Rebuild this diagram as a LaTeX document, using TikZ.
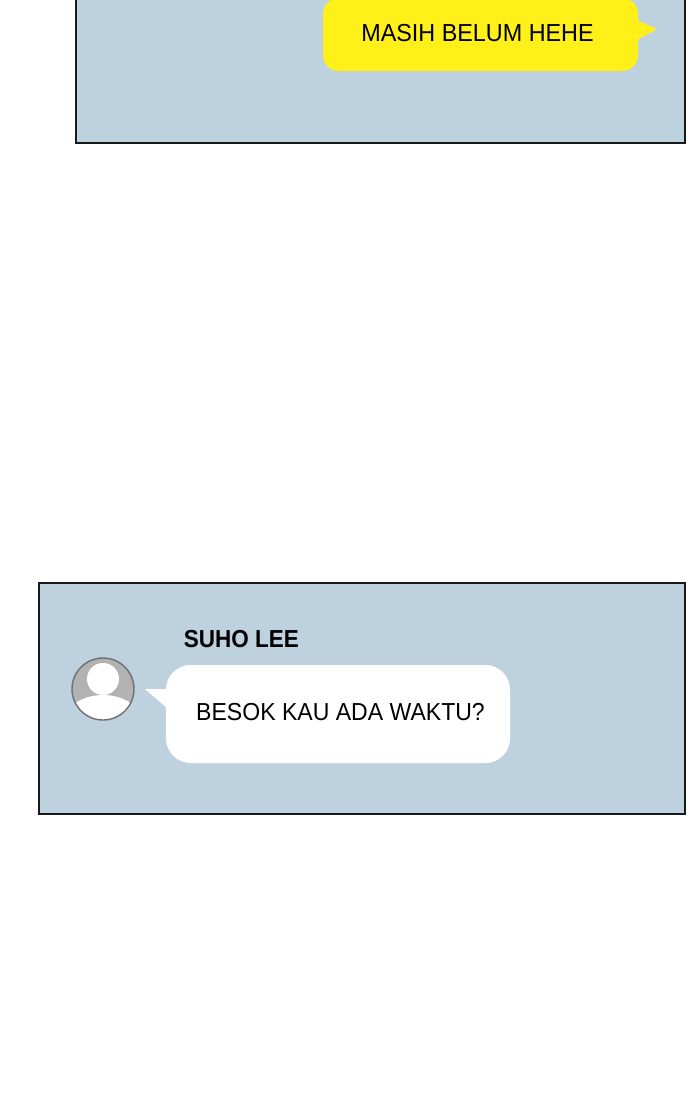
\documentclass[tikz,border=0pt]{standalone}
\usepackage{fontspec}
\setmainfont{Liberation Sans}
\newfontfamily\chatfont[FakeStretch=0.95]{Liberation Sans}
\newfontfamily\longfont[FakeStretch=0.937]{Liberation Sans}
\newfontfamily\namefont[FakeStretch=0.915]{Liberation Sans Bold}
\usepackage{xcolor}
\usetikzlibrary{positioning}
\definecolor{panelblue}{HTML}{BED1DE}
\definecolor{chatyellow}{HTML}{FFF01A}
\definecolor{avatargray}{HTML}{B2B2B2}
\definecolor{avatarline}{HTML}{707070}

\begin{document}
\begin{tikzpicture}[
    x=0.02cm, y=-0.02cm,
    panel/.style={draw=black!90, fill=panelblue, line width=1.2pt, minimum width=#1*0.02cm, inner sep=0pt, outer sep=0pt},
    yellowbubble/.style={fill=chatyellow, rounded corners=9pt, minimum width=315*0.02cm, minimum height=73*0.02cm, inner sep=0pt, outer sep=0pt},
    whitebubble/.style={fill=white, rounded corners=14pt, minimum width=344*0.02cm, minimum height=98*0.02cm, inner sep=0pt, outer sep=0pt},
    chattext/.style={font=\fontsize{14pt}{16pt}\chatfont, inner sep=0pt, text=black},
    nametext/.style={font=\fontsize{14pt}{16pt}\namefont, inner sep=0pt, text=black}
]
    \useasboundingbox (0,0) rectangle (700,1100);
    \clip (0,0) rectangle (700,1100);

    % upper panel
    \node[panel=609, minimum height=163*0.02cm] (panelA) at (380.5,61.5) {};
    \node[yellowbubble] (bubbleA) at (480.5,34.5) {};
    \coordinate (tailA) at (657,29);
    \fill[chatyellow] ([yshift=0.28cm]bubbleA.east) -- (tailA) -- ([yshift=-0.1cm]bubbleA.east) -- cycle;
    \node[chattext] (msgA) at (477.5,33) {MASIH BELUM HEHE};

    % lower panel
    \node[panel=646, minimum height=231*0.02cm] (panelB) at (362,698.5) {};
    \node[nametext] (nameB) at (241.5,639.5) {SUHO LEE};
    \node[whitebubble] (bubbleB) at (338,714) {};
    \coordinate (tailB) at (145,689);
    \fill[white] ([xshift=0.1cm,yshift=0.5cm]bubbleB.west) -- (tailB) -- ([xshift=0.04cm,yshift=0.1cm]bubbleB.west) -- cycle;
    \node[chattext, font=\fontsize{14pt}{16pt}\longfont] (msgB) at (340.5,712) {BESOK KAU ADA WAKTU?};

    % avatar
    \node[circle, fill=avatargray, minimum size=62*0.02cm, inner sep=0pt] (avatar) at (103,689) {};
    \begin{scope}
        \clip (avatar.center) circle (31);
        \fill[white] (103,724) ellipse (40 and 29);
    \end{scope}
    \node[circle, fill=white, minimum size=32*0.02cm, inner sep=0pt] (head) at (103,679) {};
    \node[circle, draw=avatarline, line width=0.8pt, minimum size=62*0.02cm, inner sep=0pt] (ring) at (avatar.center) {};
\end{tikzpicture}
\end{document}
